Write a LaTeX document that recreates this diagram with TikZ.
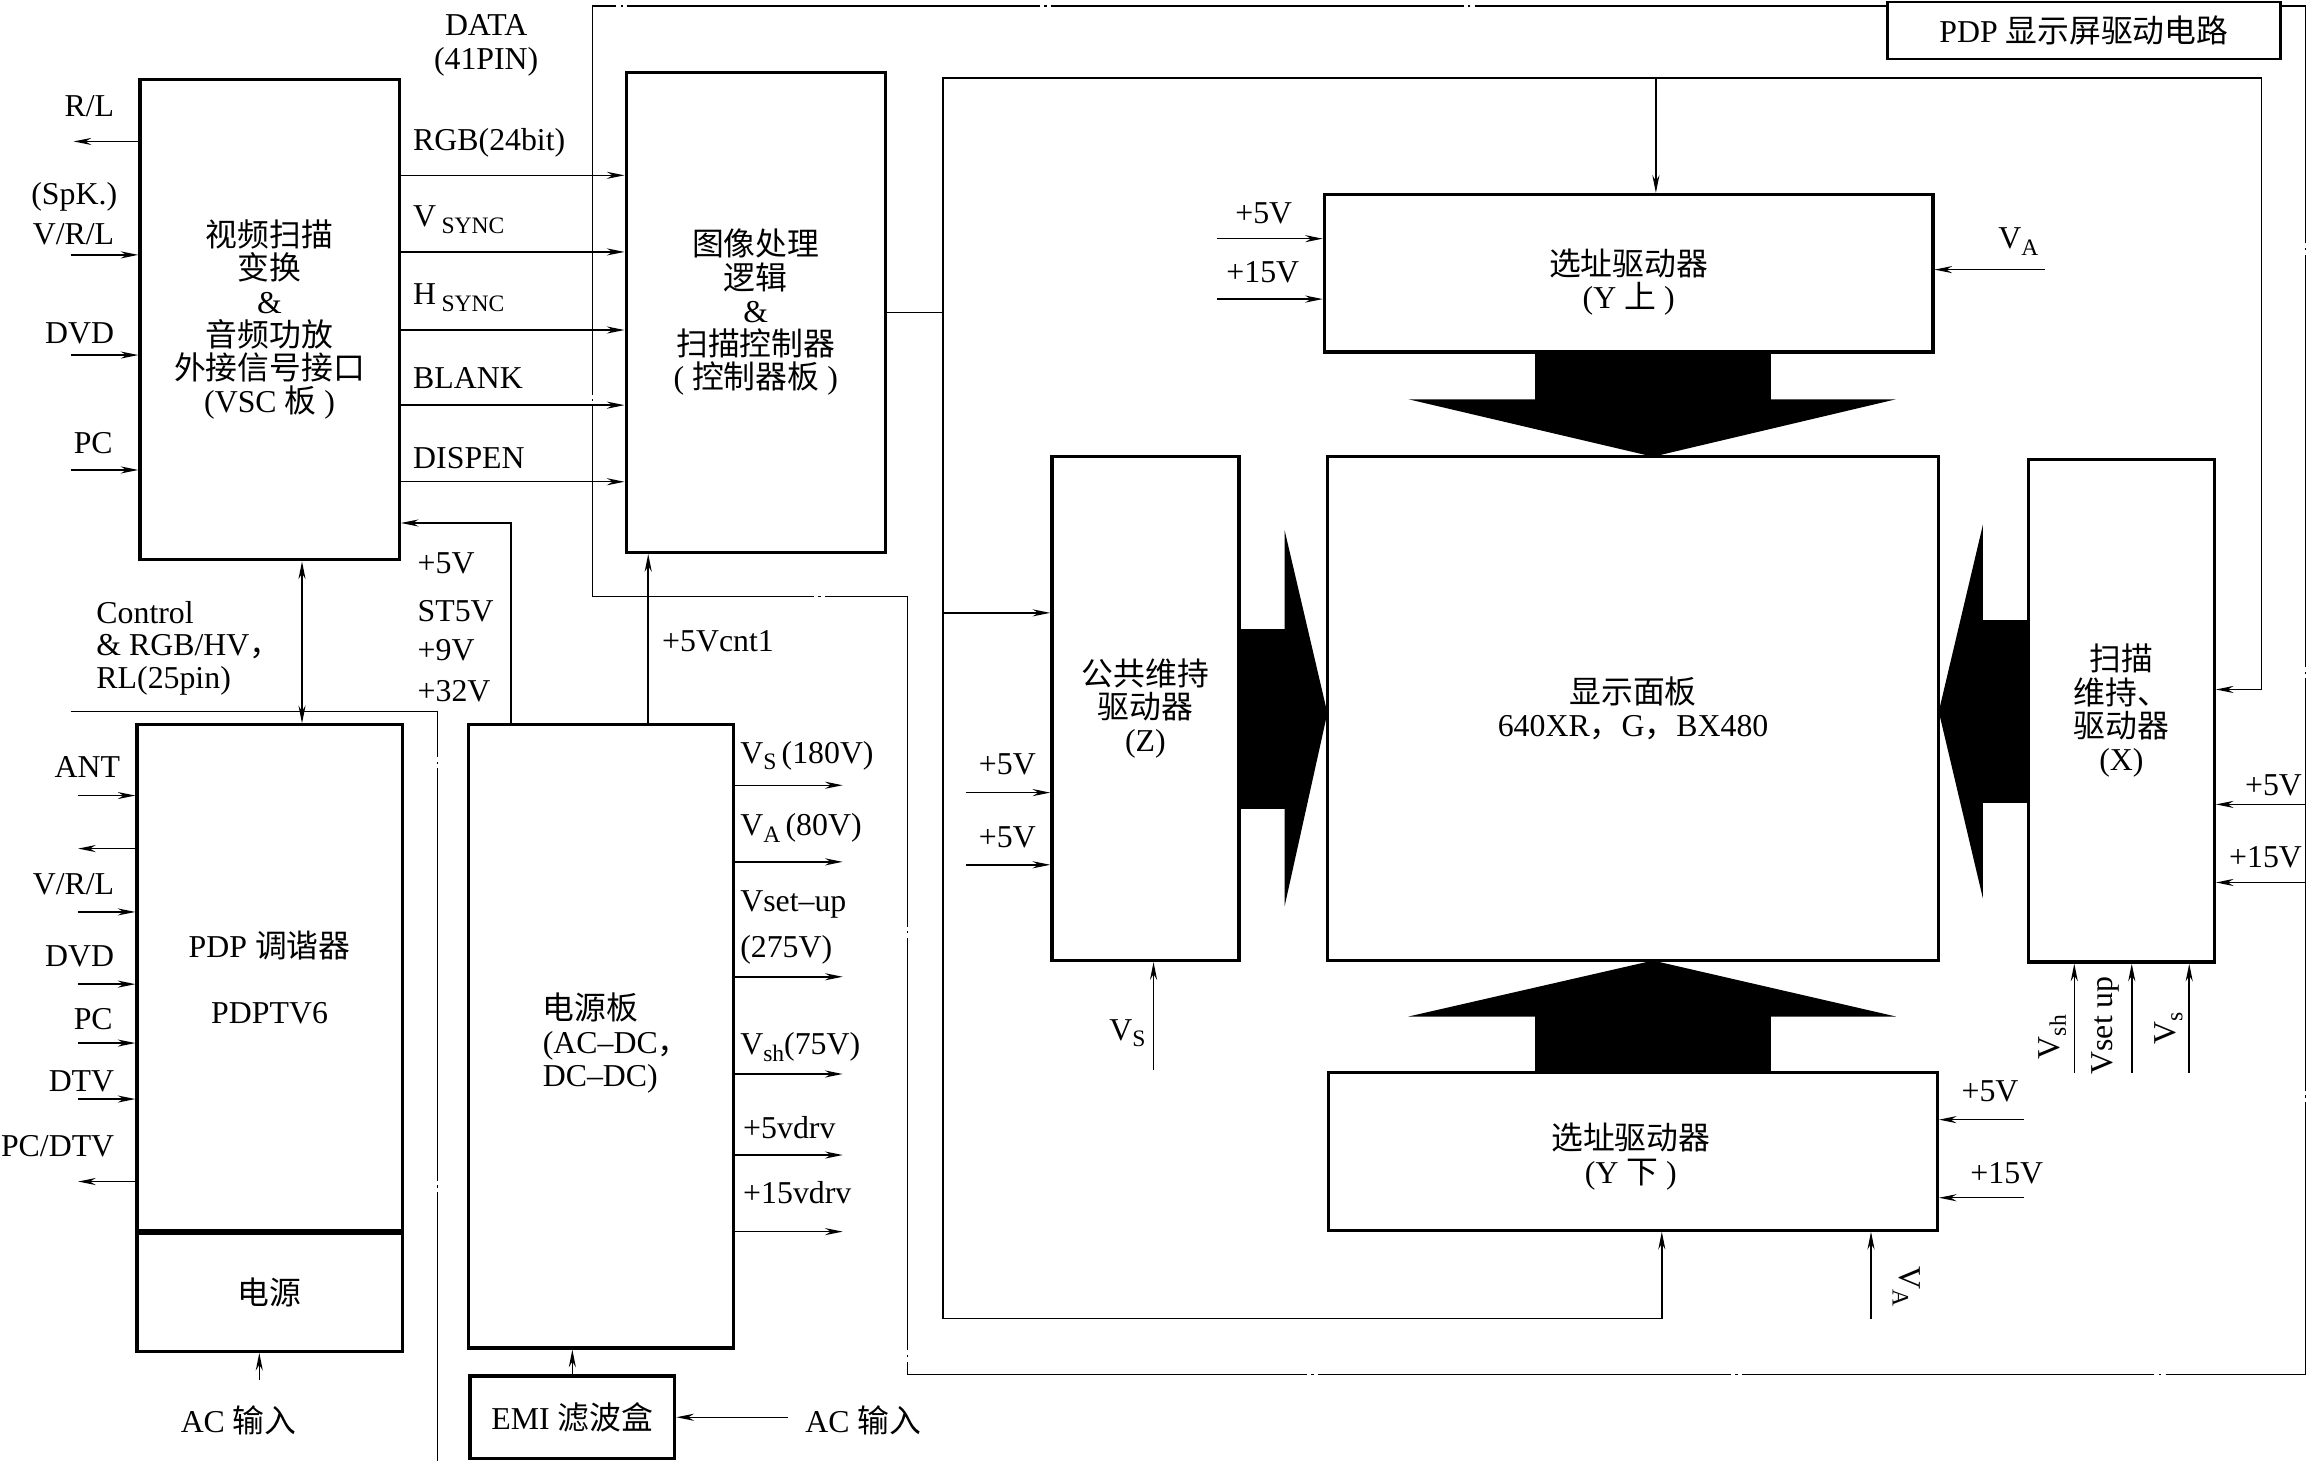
\documentclass[tikz,border=0pt]{standalone}
\usepackage{fontspec}
\setmainfont{Liberation Serif}
\newfontfamily\zhfont{Noto Sans CJK SC}
\usetikzlibrary{arrows.meta}

\newcommand{\sub}[1]{\raisebox{-2.3pt}{\fontsize{8}{8}\selectfont #1}}

\tikzset{
  bloque/.style={draw, line width=1.1pt, inner sep=0pt, align=center},
  etq/.style={inner sep=0pt},
  limite/.style={line width=0.5pt, dash pattern=on 140pt off 1.5pt on 0.8pt off 1.5pt},
}

\begin{document}
\begin{tikzpicture}[x=0.5pt, y=-0.5pt, line width=0.5pt,
    >={Stealth[length=6pt,width=2.4pt]},
    every node/.style={font=\fontsize{10.8}{11.3}\selectfont}]
  \useasboundingbox (0,0) rectangle (1568,992);

  % Limites de las placas
  \draw[limite] (1281,4) -- (402,4) -- (402,405) -- (616,405) -- (616,933) -- (1565,933) -- (1565,4) -- (1548,4);
  \draw[limite] (48,483) -- (297,483) -- (297,992);

  % Bloques
  \node[bloque, minimum width=88pt, minimum height=163pt] (vsc) at (183,217)
    {{\zhfont 视频扫描}\\{\zhfont 变换}\\\&\\{\zhfont 音频功放}\\{\zhfont 外接信号接口}\\(VSC {\zhfont 板} )};
  \node[bloque, minimum width=88pt, minimum height=163pt] (ctrl) at (513,212)
    {{\zhfont 图像处理}\\{\zhfont 逻辑}\\\&\\{\zhfont 扫描控制器}\\( {\zhfont 控制器板} )};
  \node[bloque, minimum width=90pt, minimum height=171.5pt] (tuner) at (183,663.5)
    {PDP {\zhfont 调谐器}\\[11.2pt]PDPTV6};
  \node[bloque, minimum width=90pt, minimum height=40pt, anchor=north] (tunerpw) at (tuner.south) {\zhfont 电源};
  \node[bloque, minimum width=90pt, minimum height=211.5pt] (psu) at (408,703.5) {};
  \node[etq, align=left, anchor=west] (tpsu) at (368,708)
    {{\zhfont 电源板}\\(AC--DC{\zhfont ，}\\DC--DC)};
  \node[bloque, minimum width=69.5pt, minimum height=28pt] (emi) at (388.5,962) {EMI {\zhfont 滤波盒}};
  \node[bloque, minimum width=206.5pt, minimum height=53.5pt] (yup) at (1105.5,185.5) {};
  \node[etq, align=center] (tyup) at (1105.5,191.5) {{\zhfont 选址驱动器}\\(Y {\zhfont 上} )};
  \node[bloque, minimum width=207.5pt, minimum height=171pt] (panel) at (1108.5,481)
    {{\zhfont 显示面板}\\640XR{\zhfont ，}G{\zhfont ，}BX480};
  \node[bloque, minimum width=63.5pt, minimum height=171pt] (zbox) at (777.5,481)
    {{\zhfont 公共维持}\\{\zhfont 驱动器}\\(Z)};
  \node[bloque, minimum width=63pt, minimum height=170.5pt] (xbox) at (1440,482.5)
    {{\zhfont 扫描}\\{\zhfont 维持、}\\{\zhfont 驱动器}\\(X)};
  \node[bloque, minimum width=206.5pt, minimum height=53.5pt] (ydown) at (1108.5,781.5) {};
  \node[etq, align=center] (tydown) at (1107,785) {{\zhfont 选址驱动器}\\(Y {\zhfont 下} )};
  \node[bloque, line width=0.9pt, fill=white, minimum width=133.5pt, minimum height=19.3pt] (titulo) at (1414.5,20.7)
    {PDP {\zhfont 显示屏驱动电路}};

  % Flechas gruesas hacia el panel
  \fill (1042,239) -- (1202,239) -- (1202,271) -- (1287,271) -- (1122,310) -- (956,271) -- (1042,271) -- cycle;
  \fill (1042,728) -- (1202,728) -- (1202,690) -- (1287,690) -- (1122,652) -- (956,690) -- (1042,690) -- cycle;
  \fill (841,427) -- (872,427) -- (872,360) -- (901,484) -- (872,615) -- (872,549) -- (841,549) -- cycle;
  \fill (1377,421) -- (1346,421) -- (1346,356) -- (1316,483) -- (1346,610) -- (1346,545) -- (1377,545) -- cycle;

  % Entradas de la placa VSC
  \draw[->] (vsc.west |- 0,96) -- (50,96);
  \foreach \y in {173,241,319}
    \draw[->] (48,\y) -- (vsc.west |- 0,\y);
  \node[etq, anchor=base east] (trl) at (78,79) {R/L};
  \node[etq, anchor=base east] (tspk) at (80,139) {(SpK.)};
  \node[etq, anchor=base east] (tvrl) at (78,166) {V/R/L};
  \node[etq, anchor=base east] (tdvd) at (78,233) {DVD};
  \node[etq, anchor=base east] (tpc) at (77,308) {PC};

  % Senales hacia el controlador
  \foreach \y in {119,171,224,275,327}
    \draw[->] (vsc.east |- 0,\y) -- (ctrl.west |- 0,\y);
  \node[etq, anchor=base] (tdata) at (330,24) {DATA};
  \node[etq, anchor=base] (tpin) at (330,47) {(41PIN)};
  \node[etq, anchor=base west] (trgb) at (280,102) {RGB(24bit)};
  \node[etq, anchor=base west] (tvsync) at (280,154) {V\,\sub{SYNC}};
  \node[etq, anchor=base west] (thsync) at (280,207) {H\,\sub{SYNC}};
  \node[etq, anchor=base west] (tblank) at (280,264) {BLANK};
  \node[etq, anchor=base west] (tdispen) at (280,318) {DISPEN};

  % Enlace VSC - sintonizador
  \draw[<->] (205,0 |- vsc.south) -- (205,0 |- tuner.north);
  \node[etq, anchor=base west] (tctl1) at (65,423) {Control};
  \node[etq, anchor=base west] (tctl2) at (65,445) {\& RGB/HV{\zhfont ，}};
  \node[etq, anchor=base west] (tctl3) at (65,467) {RL(25pin)};

  % Alimentacion de VSC y controlador
  \draw[->] (347,0 |- psu.north) -- (347,355) -- (vsc.east |- 0,355);
  \draw[->] (440,0 |- psu.north) -- (440,0 |- ctrl.south);
  \node[etq, anchor=base west] (tv5) at (283,389) {+5V};
  \node[etq, anchor=base west] (tst5) at (283,422) {ST5V};
  \node[etq, anchor=base west] (tv9) at (283,448) {+9V};
  \node[etq, anchor=base west] (tv32) at (283,476) {+32V};
  \node[etq, anchor=base west] (tcnt) at (449,442) {+5Vcnt1};

  % Entradas del sintonizador
  \foreach \y in {540,619,668,708,746}
    \draw[->] (53,\y) -- (tuner.west |- 0,\y);
  \foreach \y in {576,802}
    \draw[->] (tuner.west |- 0,\y) -- (53,\y);
  \node[etq, anchor=base east] (tant) at (82,528) {ANT};
  \node[etq, anchor=base east] (tvrl2) at (78,607) {V/R/L};
  \node[etq, anchor=base east] (tdvd2) at (78,656) {DVD};
  \node[etq, anchor=base east] (tpc2) at (77,699) {PC};
  \node[etq, anchor=base east] (tdtv) at (78,741) {DTV};
  \node[etq, anchor=base east] (tpcdtv) at (78,785) {PC/DTV};
  \draw[->] (176,937) -- (176,0 |- tunerpw.south);
  \node[etq] (tac1) at (162,964) {AC {\zhfont 输入}};

  % Salidas de la fuente
  \foreach \y in {533,585,663,729,784,836}
    \draw[->] (psu.east |- 0,\y) -- (572,\y);
  \node[etq, anchor=base west] (tvs) at (502,518) {V\sub{S}\,(180V)};
  \node[etq, anchor=base west] (tva) at (502,567) {V\sub{A}\,(80V)};
  \node[etq, anchor=base west] (tvset) at (502,619) {Vset--up};
  \node[etq, anchor=base west] (tvset2) at (502,650) {(275V)};
  \node[etq, anchor=base west] (tvsh) at (502,716) {V\sub{sh}(75V)};
  \node[etq, anchor=base west] (tdrv5) at (504,773) {+5vdrv};
  \node[etq, anchor=base west] (tdrv15) at (504,817) {+15vdrv};

  % Filtro EMI
  \draw[->] (emi.north) -- (emi.north |- psu.south);
  \draw[->] (535,0 |- emi.east) -- (emi.east);
  \node[etq] (tac2) at (586,964) {AC {\zhfont 输入}};

  % Lineas del controlador a los excitadores
  \draw (ctrl.east) -- (640,0 |- ctrl.east);
  \draw[->] (640,0 |- ctrl.east) -- (640,895) -- (1128,895) -- (1128,0 |- ydown.south);
  \draw[->] (640,0 |- ctrl.east) -- (640,53) -- (1535,53) -- (1535,468) -- (xbox.east |- 0,468);
  \draw[->] (1124,53) -- (1124,0 |- yup.north);
  \draw[->] (640,416) -- (zbox.west |- 0,416);

  % Alimentacion Y superior
  \draw[->] (826,162) -- (yup.west |- 0,162);
  \draw[->] (826,203) -- (yup.west |- 0,203);
  \draw[->] (1388,183) -- (yup.east |- 0,183);
  \node[etq, anchor=base west] (tyup5) at (838,152) {+5V};
  \node[etq, anchor=base west] (tyup15) at (832,192) {+15V};
  \node[etq, anchor=base west] (tyupva) at (1356,169) {V\sub{A}};

  % Alimentacion Z
  \draw[->] (656,538) -- (zbox.west |- 0,538);
  \draw[->] (656,587) -- (zbox.west |- 0,587);
  \draw[->] (783,726) -- (783,0 |- zbox.south);
  \node[etq, anchor=base west] (tz51) at (664,526) {+5V};
  \node[etq, anchor=base west] (tz52) at (664,575) {+5V};
  \node[etq, anchor=base east] (tzvs) at (778,706) {V\sub{S}};

  % Alimentacion X
  \draw[->] (1565,546) -- (xbox.east |- 0,546);
  \draw[->] (1565,599) -- (xbox.east |- 0,599);
  \foreach \x in {1408,1447,1486}
    \draw[->] (\x,728) -- (\x,0 |- xbox.south);
  \node[etq, anchor=base east] (tx5) at (1563,540) {+5V};
  \node[etq, anchor=base east] (tx15) at (1563,589) {+15V};
  \node[etq, rotate=90] (txvsh) at (1393,704) {V\sub{sh}};
  \node[etq, rotate=90] (txvset) at (1429,696) {Vset up};
  \node[etq, rotate=90] (txvs) at (1472,698) {V\sub{s}};

  % Alimentacion Y inferior
  \draw[->] (1374,760) -- (ydown.east |- 0,760);
  \draw[->] (1374,813) -- (ydown.east |- 0,813);
  \draw[->] (1270,895) -- (1270,0 |- ydown.south);
  \node[etq, anchor=base west] (tyd5) at (1331,748) {+5V};
  \node[etq, anchor=base west] (tyd15) at (1337,803) {+15V};
  \node[etq, rotate=-90] (tydva) at (1294,873) {V\sub{A}};
\end{tikzpicture}
\end{document}
